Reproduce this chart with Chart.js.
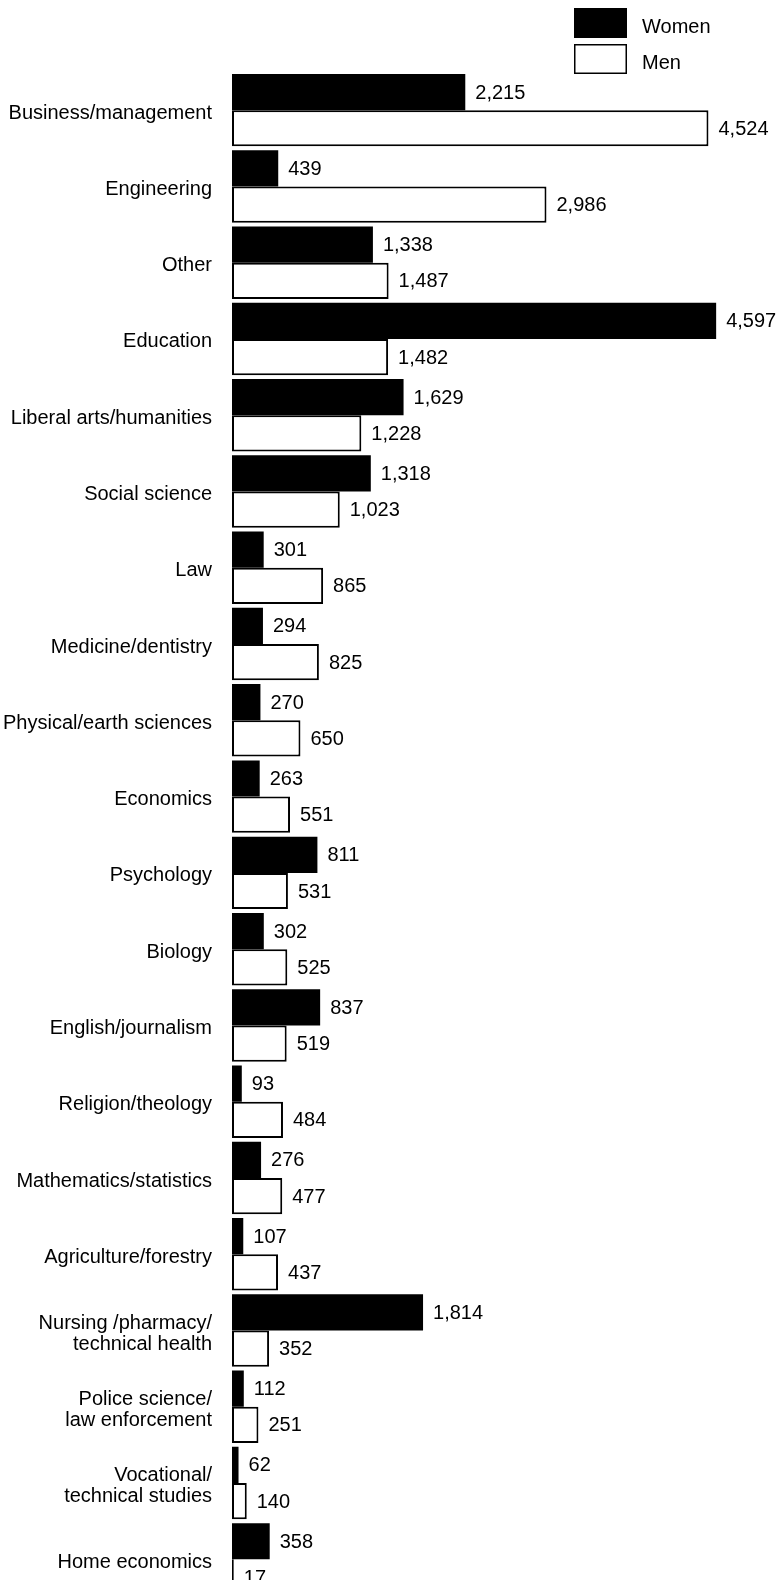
<!DOCTYPE html>
<html>
<head>
<meta charset="utf-8">
<title>Degrees by field: women and men</title>
<script src="https://cdn.jsdelivr.net/npm/chart.js@4.4.1/dist/chart.umd.min.js"></script>
<style>
  html, body { margin: 0; padding: 0; background: #fff; overflow: hidden; }
  /* taller than the window: the last row runs off the page like the reference */
  #fieldsChart { display: block; width: 780px; height: 1620px; }
</style>
</head>
<body>
<canvas id="fieldsChart" width="780" height="1620"></canvas>
<script>
// ── Data ────────────────────────────────────────────────
const categories = [
  "Business/management",
  "Engineering",
  "Other",
  "Education",
  "Liberal arts/humanities",
  "Social science",
  "Law",
  "Medicine/dentistry",
  "Physical/earth sciences",
  "Economics",
  "Psychology",
  "Biology",
  "English/journalism",
  "Religion/theology",
  "Mathematics/statistics",
  "Agriculture/forestry",
  ["Nursing /pharmacy/", "technical health"],
  ["Police science/", "law enforcement"],
  ["Vocational/", "technical studies"],
  "Home economics"
];

const women = [2215, 439, 1338, 4597, 1629, 1318, 301, 294, 270, 263,
               811, 302, 837, 93, 276, 107, 1814, 112, 62, 358];

const men   = [4524, 2986, 1487, 1482, 1228, 1023, 865, 825, 650, 551,
               531, 525, 519, 484, 477, 437, 352, 251, 140, 17];

const seriesNames = ["Women", "Men"];

const FONT = '"Liberation Sans", Arial, Helvetica, sans-serif';

// ── Value labels at the end of each bar ─────────────────
const valueLabels = {
  id: "valueLabels",
  afterDatasetsDraw(chart) {
    const ctx = chart.ctx;
    ctx.save();
    ctx.font = "20px " + FONT;
    ctx.fillStyle = "#000";
    ctx.textAlign = "left";
    ctx.textBaseline = "middle";
    chart.data.datasets.forEach((ds, i) => {
      chart.getDatasetMeta(i).data.forEach((bar, j) => {
        ctx.fillText(ds.data[j].toLocaleString("en-US"), bar.x + 10, bar.y + 1);
      });
    });
    ctx.restore();
  }
};

// ── Stacked legend, top right ───────────────────────────
const boxLegend = {
  id: "boxLegend",
  afterDraw(chart) {
    const ctx = chart.ctx;
    const x = 574, w = 53, h = 30;
    const rows = [8, 44];
    ctx.save();
    ctx.font = "20px " + FONT;
    ctx.textAlign = "left";
    ctx.textBaseline = "middle";
    chart.data.datasets.forEach((ds, i) => {
      const y = rows[i];
      ctx.fillStyle = ds.backgroundColor;
      ctx.fillRect(x, y, w, h);
      ctx.lineWidth = 1.5;
      ctx.strokeStyle = ds.borderColor;
      ctx.strokeRect(x + 0.75, y + 0.75, w - 1.5, h - 1.5);
      ctx.fillStyle = "#000";
      ctx.fillText(ds.label, 642, y + h / 2 + 4);
    });
    ctx.restore();
  }
};

// ── Chart ───────────────────────────────────────────────
const ctx = document.getElementById("fieldsChart").getContext("2d");

new Chart(ctx, {
  type: "bar",
  data: {
    labels: categories,
    datasets: [
      {
        label: seriesNames[0],
        data: women,
        backgroundColor: "#000",
        borderColor: "#000",
        borderWidth: 0
      },
      {
        label: seriesNames[1],
        data: men,
        backgroundColor: "#fff",
        borderColor: "#000",
        borderWidth: 2,
        borderSkipped: false
      }
    ]
  },
  options: {
    indexAxis: "y",
    responsive: false,
    maintainAspectRatio: false,
    animation: false,
    devicePixelRatio: 1,
    datasets: {
      bar: { categoryPercentage: 0.95, barPercentage: 1.0 }
    },
    layout: {
      padding: { top: 72, right: 53, bottom: 0, left: 0 }
    },
    scales: {
      x: {
        display: false,
        min: 0,
        max: 4700
      },
      y: {
        afterFit(scale) { scale.width = 232; },
        grid: { display: false },
        border: { display: false },
        ticks: {
          autoSkip: false,
          padding: 12,
          labelOffset: 3,
          color: "#000",
          font: { family: FONT, size: 20, lineHeight: 1.05 }
        }
      }
    },
    plugins: {
      legend: { display: false },
      tooltip: { enabled: false }
    }
  },
  plugins: [valueLabels, boxLegend]
});
</script>
</body>
</html>
